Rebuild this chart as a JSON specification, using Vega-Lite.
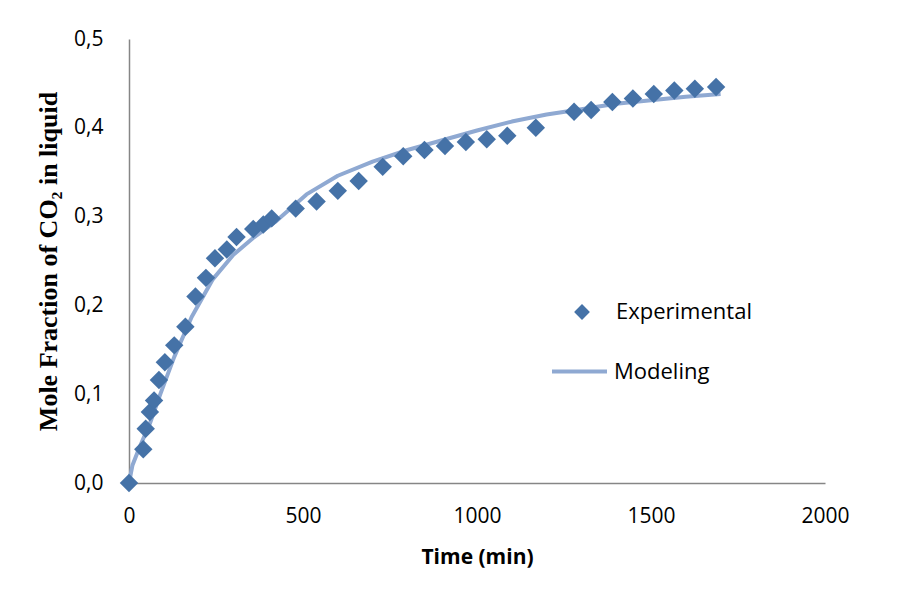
{
  "$schema": "https://vega.github.io/schema/vega-lite/v6.json",
  "width": 696,
  "height": 444,
  "autosize": {"type": "none"},
  "padding": {"left": 129, "top": 39, "right": 81, "bottom": 127},
  "background": "white",
  "config": {
    "view": {"stroke": null},
    "font": "Open Sans"
  },
  "datasets": {
    "exp": [
      {"t": 0, "y": 0, "series": "Experimental"},
      {"t": 41, "y": 0.038, "series": "Experimental"},
      {"t": 48, "y": 0.061, "series": "Experimental"},
      {"t": 60, "y": 0.080, "series": "Experimental"},
      {"t": 72, "y": 0.093, "series": "Experimental"},
      {"t": 86, "y": 0.116, "series": "Experimental"},
      {"t": 103, "y": 0.136, "series": "Experimental"},
      {"t": 130, "y": 0.155, "series": "Experimental"},
      {"t": 162, "y": 0.176, "series": "Experimental"},
      {"t": 191, "y": 0.210, "series": "Experimental"},
      {"t": 221, "y": 0.231, "series": "Experimental"},
      {"t": 247, "y": 0.253, "series": "Experimental"},
      {"t": 281, "y": 0.263, "series": "Experimental"},
      {"t": 309, "y": 0.277, "series": "Experimental"},
      {"t": 357, "y": 0.286, "series": "Experimental"},
      {"t": 386, "y": 0.291, "series": "Experimental"},
      {"t": 410, "y": 0.298, "series": "Experimental"},
      {"t": 479, "y": 0.309, "series": "Experimental"},
      {"t": 539, "y": 0.317, "series": "Experimental"},
      {"t": 600, "y": 0.329, "series": "Experimental"},
      {"t": 660, "y": 0.340, "series": "Experimental"},
      {"t": 729, "y": 0.356, "series": "Experimental"},
      {"t": 788, "y": 0.368, "series": "Experimental"},
      {"t": 849, "y": 0.375, "series": "Experimental"},
      {"t": 908, "y": 0.3795, "series": "Experimental"},
      {"t": 968, "y": 0.384, "series": "Experimental"},
      {"t": 1028, "y": 0.387, "series": "Experimental"},
      {"t": 1087, "y": 0.391, "series": "Experimental"},
      {"t": 1169, "y": 0.400, "series": "Experimental"},
      {"t": 1279, "y": 0.418, "series": "Experimental"},
      {"t": 1328, "y": 0.420, "series": "Experimental"},
      {"t": 1389, "y": 0.429, "series": "Experimental"},
      {"t": 1448, "y": 0.433, "series": "Experimental"},
      {"t": 1508, "y": 0.438, "series": "Experimental"},
      {"t": 1567, "y": 0.442, "series": "Experimental"},
      {"t": 1626, "y": 0.444, "series": "Experimental"},
      {"t": 1687, "y": 0.446, "series": "Experimental"}
    ],
    "model": [
      {"t": 0, "y": 0, "series": "Modeling"},
      {"t": 10, "y": 0.020, "series": "Modeling"},
      {"t": 30, "y": 0.040, "series": "Modeling"},
      {"t": 60, "y": 0.067, "series": "Modeling"},
      {"t": 90, "y": 0.100, "series": "Modeling"},
      {"t": 130, "y": 0.142, "series": "Modeling"},
      {"t": 180, "y": 0.187, "series": "Modeling"},
      {"t": 240, "y": 0.229, "series": "Modeling"},
      {"t": 300, "y": 0.257, "series": "Modeling"},
      {"t": 360, "y": 0.277, "series": "Modeling"},
      {"t": 420, "y": 0.294, "series": "Modeling"},
      {"t": 510, "y": 0.325, "series": "Modeling"},
      {"t": 600, "y": 0.346, "series": "Modeling"},
      {"t": 700, "y": 0.362, "series": "Modeling"},
      {"t": 800, "y": 0.375, "series": "Modeling"},
      {"t": 900, "y": 0.386, "series": "Modeling"},
      {"t": 1000, "y": 0.397, "series": "Modeling"},
      {"t": 1100, "y": 0.407, "series": "Modeling"},
      {"t": 1200, "y": 0.415, "series": "Modeling"},
      {"t": 1300, "y": 0.421, "series": "Modeling"},
      {"t": 1400, "y": 0.427, "series": "Modeling"},
      {"t": 1500, "y": 0.431, "series": "Modeling"},
      {"t": 1600, "y": 0.435, "series": "Modeling"},
      {"t": 1700, "y": 0.438, "series": "Modeling"}
    ]
  },
  "layer": [
    {
      "data": {"name": "model"},
      "mark": {"type": "line", "strokeWidth": 4, "interpolate": "linear", "strokeJoin": "round"},
      "encoding": {
        "x": {
          "field": "t", "type": "quantitative",
          "scale": {"domain": [0, 2000], "nice": false, "zero": true},
          "axis": {
            "title": "Time (min)",
            "values": [0, 500, 1000, 1500, 2000],
            "format": "d",
            "grid": false, "ticks": false, "tickSize": 0,
            "domainColor": "#868686", "domainWidth": 1.5,
            "labelFont": "Open Sans", "labelFontSize": 21, "labelColor": "#000000",
            "labelPadding": 22, "labelFlush": false,
            "titleFont": "Open Sans", "titleFontSize": 21, "titleFontWeight": "bold", "titleColor": "#000000",
            "titleX": 348, "titleY": 74, "titleBaseline": "middle", "titleAlign": "center"
          }
        },
        "y": {
          "field": "y", "type": "quantitative",
          "scale": {"domain": [0, 0.5], "nice": false},
          "axis": {
            "title": "Mole Fraction of CO₂ in liquid",
            "values": [0, 0.1, 0.2, 0.3, 0.4, 0.5],
            "labelExpr": "replace(format(datum.value, '.1f'), '.', ',')",
            "grid": false, "ticks": false, "tickSize": 0,
            "domainColor": "#868686", "domainWidth": 1.5,
            "labelFont": "Open Sans", "labelFontSize": 21, "labelColor": "#000000",
            "labelPadding": 26, "labelFlush": false,
            "titleFont": "Liberation Serif", "titleFontSize": 26, "titleFontWeight": "bold", "titleColor": "#000000",
            "titleAngle": 270, "titleX": -81, "titleY": 222, "titleBaseline": "middle", "titleAlign": "center"
          }
        },
        "stroke": {
          "field": "series", "type": "nominal",
          "scale": {"domain": ["Modeling"], "range": ["#8FA9D2"]},
          "legend": {
            "title": null, "orient": "none", "legendX": 421, "legendY": 303,
            "symbolType": "stroke", "symbolSize": 3025, "symbolStrokeWidth": 4,
            "labelFont": "Open Sans", "labelFontSize": 22, "labelColor": "#000000",
            "labelOffset": 5, "padding": 0
          }
        }
      }
    },
    {
      "data": {"name": "exp"},
      "mark": {"type": "point", "shape": "diamond", "filled": true, "size": 340, "opacity": 1},
      "encoding": {
        "x": {"field": "t", "type": "quantitative"},
        "y": {"field": "y", "type": "quantitative"},
        "fill": {
          "field": "series", "type": "nominal",
          "scale": {"domain": ["Experimental"], "range": ["#4572A7"]},
          "legend": {
            "title": null, "orient": "none", "legendX": 442, "legendY": 262,
            "symbolType": "diamond", "symbolSize": 250, "symbolStrokeWidth": 0, "symbolOpacity": 1,
            "labelFont": "Open Sans", "labelFontSize": 22, "labelColor": "#000000",
            "labelOffset": 23, "padding": 0
          }
        }
      }
    }
  ]
}
